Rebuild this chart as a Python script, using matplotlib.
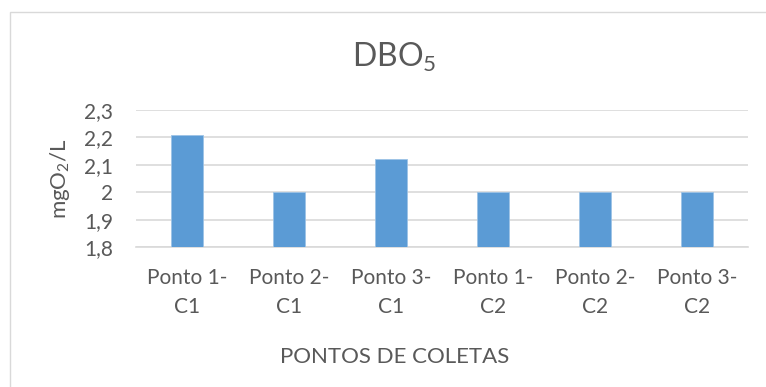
import matplotlib
matplotlib.use("Agg")
import matplotlib.pyplot as plt
from matplotlib.patches import Rectangle

categories = ["Ponto 1-\nC1", "Ponto 2-\nC1", "Ponto 3-\nC1", "Ponto 1-\nC2", "Ponto 2-\nC2", "Ponto 3-\nC2"]
values = [2.21, 2.00, 2.12, 2.00, 2.00, 2.00]
yticks = [1.8, 1.9, 2.0, 2.1, 2.2, 2.3]
ytick_labels = ["1,8", "1,9", "2", "2,1", "2,2", "2,3"]

plt.rcParams['font.family'] = ['Lato', 'DejaVu Sans']
plt.rcParams['mathtext.fontset'] = 'custom'
plt.rcParams['mathtext.rm'] = 'Lato'
plt.rcParams['mathtext.it'] = 'Lato'

W, H = 766, 387
fig = plt.figure(figsize=(W/100, H/100), dpi=100)
text_color = '#595959'
grid_color = '#D9D9D9'

ax = fig.add_axes([136/W, 1-247/H, (748-136)/W, (247-110)/H])
x = list(range(len(categories)))
ax.bar(x, values, width=0.313, color='#5B9BD5', edgecolor='#9DC3E6', linewidth=0.6, zorder=3)
ax.set_xlim(-0.5, len(categories)-0.5)
ax.set_ylim(1.8, 2.3)
ax.set_yticks(yticks)
ax.set_yticklabels(ytick_labels)
ax.set_xticks(x)
ax.set_xticklabels(categories, linespacing=1.6)
ax.yaxis.grid(True, color=grid_color, linewidth=1.2, zorder=0)
ax.set_axisbelow(True)
for s in ['top', 'right', 'left']:
    ax.spines[s].set_visible(False)
ax.spines['bottom'].set_color(grid_color)
ax.spines['bottom'].set_linewidth(1.2)
ax.tick_params(axis='both', length=0, colors=text_color, labelsize=15)
ax.tick_params(axis='y', pad=16.5)
ax.tick_params(axis='x', pad=15)

fig.text(394.5/W, 1-67/H, "DBO$_\\mathrm{5}$", ha='center', va='baseline', fontsize=23, color=text_color)
fig.text(60.5/W, 1-179/H, "mgO$_\\mathrm{2}$/L", ha='center', va='center', rotation=90, fontsize=16, color=text_color)
fig.text(395/W, 1-363/H, "PONTOS DE COLETAS", ha='center', va='baseline', fontsize=16, color=text_color)

fig.patches.append(Rectangle((9.5/W, -0.05), 1.1, 1-11.5/H+0.05, transform=fig.transFigure,
                             fill=False, edgecolor='#D9D9D9', linewidth=1.0))

fig.savefig("out.png", dpi=100)
